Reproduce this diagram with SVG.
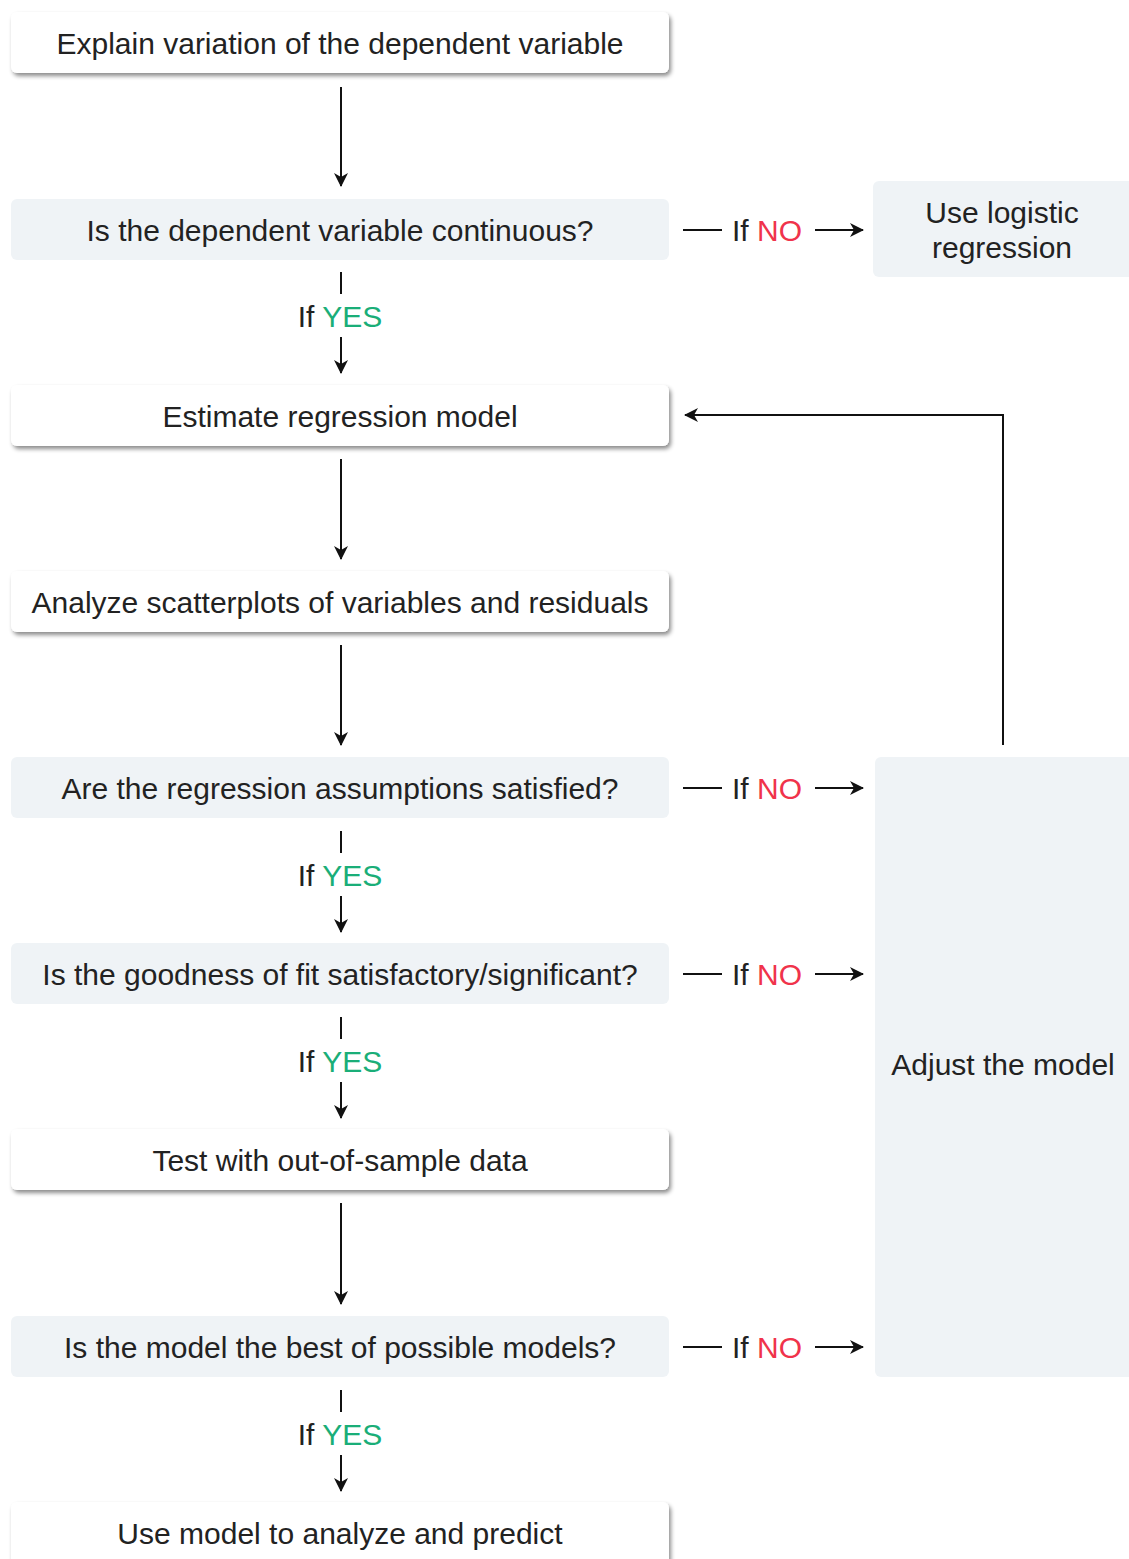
<svg xmlns="http://www.w3.org/2000/svg" width="1129" height="1559" viewBox="0 0 1129 1559">
<defs>
<filter id="sh" x="-5%" y="-20%" width="110%" height="150%">
<feDropShadow dx="2" dy="3" stdDeviation="2" flood-color="#000" flood-opacity="0.45"/>
</filter>
<marker id="ah" viewBox="0 0 14 14" refX="13" refY="7" markerWidth="14" markerHeight="14" markerUnits="userSpaceOnUse" orient="auto">
<path d="M0,0 L14,7 L0,14 L4,7 Z" fill="#111"/>
</marker>
<style>
.w{fill:#fff;filter:url(#sh)}
.g{fill:#eff3f6}
text{font-family:"Liberation Sans",Arial,sans-serif;font-size:30px;fill:#222;text-anchor:middle;dominant-baseline:central}
.no{fill:#f0334b}
.yes{fill:#1aae78}
.c{stroke:#111;stroke-width:2;fill:none}
</style>
</defs>
<rect width="1129" height="1559" fill="#fff"/>
<g id="n1"><rect class="w" x="11" y="12" width="658" height="61" rx="6"/><text x="340" y="43">Explain variation of the dependent variable</text></g>
<g id="n2"><rect class="g" x="11" y="199" width="658" height="61" rx="6"/><text x="340" y="230">Is the dependent variable continuous?</text></g>
<g id="n3"><rect class="w" x="11" y="385" width="658" height="61" rx="6"/><text x="340" y="416">Estimate regression model</text></g>
<g id="n4"><rect class="w" x="11" y="571" width="658" height="61" rx="6"/><text x="340" y="602">Analyze scatterplots of variables and residuals</text></g>
<g id="n5"><rect class="g" x="11" y="757" width="658" height="61" rx="6"/><text x="340" y="788">Are the regression assumptions satisfied?</text></g>
<g id="n6"><rect class="g" x="11" y="943" width="658" height="61" rx="6"/><text x="340" y="974">Is the goodness of fit satisfactory/significant?</text></g>
<g id="n7"><rect class="w" x="11" y="1129" width="658" height="61" rx="6"/><text x="340" y="1160">Test with out-of-sample data</text></g>
<g id="n8"><rect class="g" x="11" y="1316" width="658" height="61" rx="6"/><text x="340" y="1347">Is the model the best of possible models?</text></g>
<g id="n9"><rect class="w" x="11" y="1502" width="658" height="70" rx="6"/><text x="340" y="1533">Use model to analyze and predict</text></g>
<g id="n10"><rect class="g" x="873" y="181" width="270" height="96" rx="6"/><text x="1002" y="212">Use logistic</text><text x="1002" y="247">regression</text></g>
<g id="n11"><rect class="g" x="875" y="757" width="270" height="620" rx="6"/><text x="1003" y="1064">Adjust the model</text></g>
<g id="connectors">
<line class="c" x1="341" y1="87" x2="341" y2="186" marker-end="url(#ah)"/>
<line class="c" x1="341" y1="459" x2="341" y2="559" marker-end="url(#ah)"/>
<line class="c" x1="341" y1="645" x2="341" y2="745" marker-end="url(#ah)"/>
<line class="c" x1="341" y1="1203" x2="341" y2="1304" marker-end="url(#ah)"/>
<g id="yes1"><line class="c" x1="341" y1="272" x2="341" y2="294"/><text x="340" y="316"><tspan>If </tspan><tspan class="yes">YES</tspan></text><line class="c" x1="341" y1="337" x2="341" y2="373" marker-end="url(#ah)"/></g>
<g id="yes2"><line class="c" x1="341" y1="831" x2="341" y2="853"/><text x="340" y="875"><tspan>If </tspan><tspan class="yes">YES</tspan></text><line class="c" x1="341" y1="896" x2="341" y2="932" marker-end="url(#ah)"/></g>
<g id="yes3"><line class="c" x1="341" y1="1017" x2="341" y2="1039"/><text x="340" y="1061"><tspan>If </tspan><tspan class="yes">YES</tspan></text><line class="c" x1="341" y1="1082" x2="341" y2="1118" marker-end="url(#ah)"/></g>
<g id="yes4"><line class="c" x1="341" y1="1390" x2="341" y2="1412"/><text x="340" y="1434"><tspan>If </tspan><tspan class="yes">YES</tspan></text><line class="c" x1="341" y1="1455" x2="341" y2="1491" marker-end="url(#ah)"/></g>
<g id="no1"><line class="c" x1="683" y1="230" x2="722" y2="230"/><text x="767" y="230"><tspan>If </tspan><tspan class="no">NO</tspan></text><line class="c" x1="815" y1="230" x2="863" y2="230" marker-end="url(#ah)"/></g>
<g id="no2"><line class="c" x1="683" y1="788" x2="722" y2="788"/><text x="767" y="788"><tspan>If </tspan><tspan class="no">NO</tspan></text><line class="c" x1="815" y1="788" x2="863" y2="788" marker-end="url(#ah)"/></g>
<g id="no3"><line class="c" x1="683" y1="974" x2="722" y2="974"/><text x="767" y="974"><tspan>If </tspan><tspan class="no">NO</tspan></text><line class="c" x1="815" y1="974" x2="863" y2="974" marker-end="url(#ah)"/></g>
<g id="no4"><line class="c" x1="683" y1="1347" x2="722" y2="1347"/><text x="767" y="1347"><tspan>If </tspan><tspan class="no">NO</tspan></text><line class="c" x1="815" y1="1347" x2="863" y2="1347" marker-end="url(#ah)"/></g>
<polyline class="c" points="1003,745 1003,415 685,415" marker-end="url(#ah)"/>
</g>
</svg>
